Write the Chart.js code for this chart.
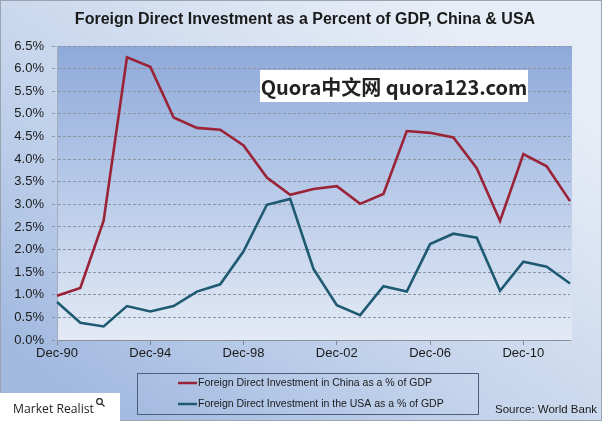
<!DOCTYPE html>
<html>
<head>
<meta charset="utf-8">
<script src="https://cdn.jsdelivr.net/npm/chart.js@4.4.1/dist/chart.umd.min.js"></script>
<style>
  html, body { margin: 0; padding: 0; background: #ffffff; }
  #wrap { width: 602px; height: 421px; position: relative; }
</style>
</head>
<body>
<div id="wrap"><canvas id="grafico_fdi" width="602" height="421"></canvas></div>
<script>
// anos (dezembro de cada ano)
const anos = ['Dec-90','Dec-91','Dec-92','Dec-93','Dec-94','Dec-95','Dec-96','Dec-97','Dec-98','Dec-99',
              'Dec-00','Dec-01','Dec-02','Dec-03','Dec-04','Dec-05','Dec-06','Dec-07','Dec-08','Dec-09',
              'Dec-10','Dec-11','Dec-12'];

// % do PIB
const china = [0.98, 1.15, 2.64, 6.25, 6.04, 4.92, 4.69, 4.65, 4.30, 3.59,
               3.21, 3.34, 3.40, 3.01, 3.23, 4.62, 4.58, 4.48, 3.80, 2.63,
               4.11, 3.84, 3.07];
const usa = [0.84, 0.38, 0.30, 0.75, 0.63, 0.75, 1.07, 1.23, 1.96, 2.99,
             3.12, 1.57, 0.77, 0.55, 1.19, 1.07, 2.12, 2.35, 2.26, 1.09,
             1.73, 1.62, 1.25];

const titulo = 'Foreign Direct Investment as a Percent of GDP, China & USA';
const legendas = ['Foreign Direct Investment in China as a % of GDP',
                  'Foreign Direct Investment in the USA as a % of GDP'];
const cores = ['#9b2337', '#1f5a73'];

const fonte = "'Liberation Sans', Arial, sans-serif";

// fundo, titulo, marca d'agua, legenda e rodape
const decor = {
    id: 'decor',
    beforeDraw(chart) {
        const ctx = chart.ctx;
        const a = chart.chartArea;
        ctx.save();
        let g = ctx.createLinearGradient(420, 0, 120, 421);
        g.addColorStop(0, '#e7edf6');
        g.addColorStop(0.55, '#c6d5ec');
        g.addColorStop(1, '#a2bae0');
        ctx.fillStyle = g;
        ctx.fillRect(0, 0, 602, 421);
        ctx.strokeStyle = '#9aa3b0';
        ctx.lineWidth = 1;
        ctx.strokeRect(0.5, 0.5, 601, 420);

        let p = ctx.createLinearGradient(0, a.top, 0, a.bottom);
        p.addColorStop(0, '#8ea9d9');
        p.addColorStop(0.5, '#b9cbe9');
        p.addColorStop(1, '#e3eaf5');
        ctx.fillStyle = p;
        ctx.fillRect(a.left, a.top, a.right - a.left + 2, a.bottom - a.top);

        // titulo
        ctx.fillStyle = '#1a1a1a';
        ctx.font = 'bold 16px ' + fonte;
        ctx.textAlign = 'center';
        ctx.textBaseline = 'middle';
        ctx.fillText(titulo, 305, 20);
        ctx.restore();
    },
    afterDraw(chart) {
        const ctx = chart.ctx;
        ctx.save();

        // marca d'agua
        ctx.fillStyle = '#ffffff';
        ctx.fillRect(260, 70, 268, 32);
        ctx.fillStyle = '#222222';
        ctx.font = "bold 20px 'Noto Sans CJK SC', 'Noto Sans', sans-serif";
        ctx.textAlign = 'center';
        ctx.textBaseline = 'middle';
        ctx.fillText('Quora中文网 quora123.com', 394, 87);

        // legenda
        ctx.strokeStyle = '#4d5d7c';
        ctx.lineWidth = 1;
        ctx.strokeRect(137.5, 373.5, 341, 41);
        ctx.font = '10.5px ' + fonte;
        ctx.textAlign = 'left';
        ctx.fillStyle = '#1a1a1a';
        [383, 404].forEach((y, i) => {
            ctx.strokeStyle = cores[i];
            ctx.lineWidth = 2.5;
            ctx.beginPath();
            ctx.moveTo(178, y);
            ctx.lineTo(197, y);
            ctx.stroke();
            ctx.fillText(legendas[i], 198, y);
        });

        // fonte dos dados
        ctx.font = '11.5px ' + fonte;
        ctx.fillStyle = '#1a1a1a';
        ctx.fillText('Source: World Bank', 495, 410);

        // logo
        ctx.fillStyle = '#ffffff';
        ctx.fillRect(0, 393, 120, 28);
        ctx.fillStyle = '#222222';
        ctx.font = "13px 'Open Sans', 'Noto Sans', sans-serif";
        const w = ctx.measureText('Market Realist').width;
        const tam = 13 * 81 / w;
        ctx.font = tam.toFixed(2) + "px 'Open Sans', 'Noto Sans', sans-serif";
        ctx.fillText('Market Realist', 13, 410);
        ctx.strokeStyle = '#222222';
        ctx.lineWidth = 1.2;
        ctx.beginPath();
        ctx.arc(99.5, 401.5, 2.8, 0, Math.PI * 2);
        ctx.moveTo(101.6, 403.6);
        ctx.lineTo(104.5, 406.5);
        ctx.stroke();

        ctx.restore();
    }
};

const config = {
    type: 'line',
    data: {
        labels: anos,
        datasets: [
            {
                label: legendas[0],
                data: china,
                borderColor: cores[0],
                borderWidth: 2.6,
                pointRadius: 0,
                tension: 0,
                fill: false
            },
            {
                label: legendas[1],
                data: usa,
                borderColor: cores[1],
                borderWidth: 2.6,
                pointRadius: 0,
                tension: 0,
                fill: false
            }
        ]
    },
    options: {
        responsive: false,
        animation: false,
        devicePixelRatio: 1,
        layout: { padding: { left: 0, right: 32, top: 46, bottom: 0 } },
        plugins: {
            legend: { display: false },
            tooltip: { enabled: false },
            title: { display: false }
        },
        scales: {
            x: {
                offset: false,
                afterFit: function(scale) { scale.height = 81; },
                grid: {
                    drawOnChartArea: false,
                    drawTicks: true,
                    tickLength: 5,
                    color: function(c) { return c.index % 4 === 0 ? '#7f8794' : 'rgba(0,0,0,0)'; }
                },
                border: { display: true, color: '#8a909b', width: 1 },
                ticks: {
                    autoSkip: false,
                    maxRotation: 0,
                    padding: 1,
                    color: '#1a1a1a',
                    font: { family: fonte, size: 13 },
                    callback: function(v, i) { return i % 4 === 0 ? this.getLabelForValue(v) : ''; }
                }
            },
            y: {
                min: 0,
                max: 6.5,
                afterFit: function(scale) { scale.width = 57; },
                grid: {
                    color: '#8d94a2',
                    lineWidth: 1,
                    drawTicks: true,
                    tickLength: 5,
                    tickBorderDash: [3, 2]
                },
                border: { display: true, color: '#a3acbb', dash: [3, 2] },
                ticks: {
                    stepSize: 0.5,
                    padding: 8,
                    color: '#1a1a1a',
                    font: { family: fonte, size: 13 },
                    callback: function(v) { return v.toFixed(1) + '%'; }
                }
            }
        }
    },
    plugins: [decor]
};

new Chart(document.getElementById('grafico_fdi').getContext('2d'), config);
</script>
</body>
</html>
